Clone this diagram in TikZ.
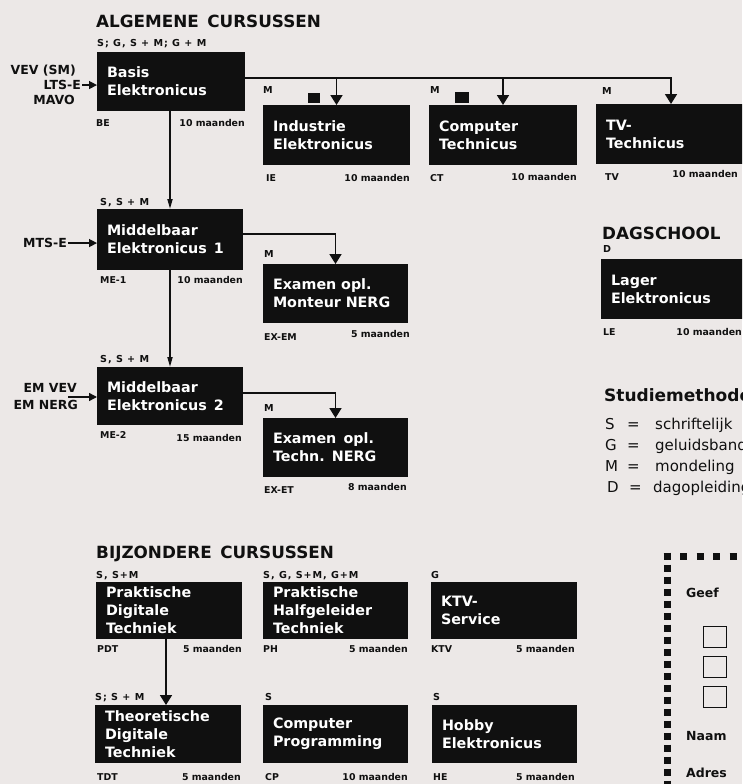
\documentclass[tikz,border=0pt]{standalone}
\usepackage{fontspec}
\setmainfont{DejaVu Sans}
\newfontfamily\spacedfam{DejaVu Sans}[LetterSpace=10]
\usetikzlibrary{arrows.meta}
\definecolor{bg}{RGB}{236,232,231}
\definecolor{ink}{RGB}{16,16,16}
\newcommand\headfont{\fontsize{16.8}{20}\selectfont\bfseries}
\newcommand\smhfont{\fontsize{17}{20}\selectfont\bfseries}
\newcommand\boxfont{\fontsize{14.3}{18}\selectfont\bfseries}
\newcommand\labfont{\fontsize{9.4}{11}\selectfont\bfseries}
\newcommand\methfont{\spacedfam\fontsize{9.6}{11}\selectfont\bfseries}
\newcommand\entryfont{\fontsize{12.5}{15}\selectfont\bfseries}
\newcommand\legfont{\fontsize{15}{18}\selectfont}
\newcommand\formfont{\fontsize{12.5}{15}\selectfont\bfseries}
\begin{document}
\begin{tikzpicture}[x=1pt,y=-1pt,
  cbox/.style={fill=ink,text=white,font=\boxfont,inner xsep=10pt,inner ysep=0pt,align=left,anchor=north west,outer sep=0pt},
  meth/.style={font=\methfont,text=ink,inner sep=0pt,anchor=base west},
  code/.style={font=\labfont,text=ink,inner sep=0pt,anchor=base west},
  dur/.style={font=\labfont,text=ink,inner sep=0pt,anchor=base east},
  head/.style={font=\headfont,text=ink,inner sep=0pt,anchor=base west},
  entry/.style={font=\entryfont,text=ink,inner sep=0pt,anchor=base east},
  conn/.style={draw=ink,line width=1.7pt},
  arr/.style={conn,-{Triangle[width=12pt,length=10pt]}},
  narrow/.style={conn,-{Triangle[width=5pt,length=10pt]}},
  inarr/.style={draw=ink,line width=1.4pt,-{Triangle[width=8pt,length=8pt]}},
  legend/.style={font=\legfont,text=ink,inner sep=0pt,anchor=base west},
  form/.style={font=\formfont,text=ink,inner sep=0pt,anchor=base west},
  chk/.style={draw=ink,line width=1.3pt,minimum width=23pt,minimum height=21pt,anchor=north west,inner sep=0pt}
]
\useasboundingbox (0,0) rectangle (742,784);
\clip (0,0) rectangle (742,784);
\fill[bg] (0,0) rectangle (742,784);

% ---------- headings ----------
\node[head] (hA) at (96,28) {ALGEMENE\enspace CURSUSSEN};
\node[head] (hD) at (602,239) {DAGSCHOOL};
\node[head] (hB) at (96,558) {BIJZONDERE\enspace CURSUSSEN};

% ---------- general courses ----------
\node[cbox,text width=128pt,minimum height=59pt] (BE) at (97,52) {Basis\\Elektronicus};
\node[cbox,text width=127pt,minimum height=60pt] (IE) at (263,105) {Industrie\\Elektronicus};
\node[cbox,text width=128pt,minimum height=60pt] (CT) at (429,105) {Computer\\Technicus};
\node[cbox,text width=130pt,minimum height=60pt] (TV) at (596,104) {TV-\\Technicus};
\node[cbox,text width=126pt,minimum height=61pt] (ME1) at (97,209) {Middelbaar\\Elektronicus\enspace 1};
\node[cbox,text width=125pt,minimum height=59pt] (EXEM) at (263,264) {Examen opl.\\Monteur NERG};
\node[cbox,text width=126pt,minimum height=58pt] (ME2) at (97,367) {Middelbaar\\Elektronicus\enspace 2};
\node[cbox,text width=125pt,minimum height=59pt] (EXET) at (263,418) {Examen\enspace opl.\\Techn.\enspace NERG};
\node[cbox,text width=130pt,minimum height=60pt] (LE) at (601,259) {Lager\\Elektronicus};

% method labels above boxes
\node[meth] (mBE) at (97,46.5) {S; G, S + M; G + M};
\node[meth] (mIE) at (263,93.5) {M};
\node[meth] (mCT) at (430,93.5) {M};
\node[meth] (mTV) at (602,94) {M};
\node[meth] (mME1) at (100,205.5) {S, S + M};
\node[meth] (mEXEM) at (264,257.5) {M};
\node[meth] (mME2) at (100,362.5) {S, S + M};
\node[meth] (mEXET) at (264,411.5) {M};
\node[meth] (mLE) at (603,252.5) {D};
\fill[ink] (308,93) rectangle (320,103);
\fill[ink] (455,92) rectangle (469,103);

% code / duration labels below boxes
\node[code] (cBE) at (96,126.5) {BE};
\node[dur] (dBE) at (245,126.5) {10 maanden};
\node[code] (cIE) at (266,181) {IE};
\node[dur] (dIE) at (410,181) {10 maanden};
\node[code] (cCT) at (430,181) {CT};
\node[dur] (dCT) at (577,180) {10 maanden};
\node[code] (cTV) at (605,180) {TV};
\node[dur] (dTV) at (738,177) {10 maanden};
\node[code] (cME1) at (100,283.5) {ME-1};
\node[dur] (dME1) at (243,283.5) {10 maanden};
\node[code] (cEXEM) at (264,340.5) {EX-EM};
\node[dur] (dEXEM) at (410,337.5) {5 maanden};
\node[code] (cME2) at (100,438.5) {ME-2};
\node[dur] (dME2) at (242,441) {15 maanden};
\node[code] (cEXET) at (264,493.5) {EX-ET};
\node[dur] (dEXET) at (407,490) {8 maanden};
\node[code] (cLE) at (603,335.5) {LE};
\node[dur] (dLE) at (742,335.5) {10 maanden};

% entry labels
\node[entry] (eVEV) at (76,74.6) {VEV (SM)};
\node[entry] (eLTS) at (81,89.6) {LTS-E};
\node[entry] (eMAVO) at (75,104.6) {MAVO};
\node[entry] (eMTS) at (67,247.6) {MTS-E};
\node[entry] (eEMV) at (77,392.6) {EM VEV};
\node[entry] (eEMN) at (78,409.6) {EM NERG};
\coordinate (emIn) at (68,397);

% connectors
\path ([yshift=3.5pt]BE.east) coordinate (trunk);
\draw[arr] (trunk) -| (TV.north);
\draw[arr] (IE.north |- trunk) -- (IE.north);
\draw[arr] (CT.north |- trunk) -- (CT.north);
\draw[narrow] (ME1.north |- BE.south) -- (ME1.north);
\draw[narrow] (ME2.north |- ME1.south) -- (ME2.north);
\draw[arr] ([yshift=5.5pt]ME1.east) -| (EXEM.north);
\draw[arr] ([yshift=3pt]ME2.east) -| (EXET.north);
\draw[inarr] ([xshift=1pt]eLTS.east) -- (eLTS.east -| BE.west);
\draw[inarr] ([xshift=1pt]eMTS.east) -- (eMTS.east -| ME1.west);
\draw[inarr] (emIn) -- (emIn -| ME2.west);

% ---------- special courses ----------
\node[cbox,text width=126pt,minimum height=57pt] (PDT) at (96,582) {Praktische\\Digitale\\Techniek};
\node[cbox,text width=125pt,minimum height=57pt] (PH) at (263,582) {Praktische\\Halfgeleider\\Techniek};
\node[cbox,text width=126pt,minimum height=57pt] (KTV) at (431,582) {KTV-\\Service};
\node[cbox,text width=126pt,minimum height=58pt] (TDT) at (95,705) {Theoretische\\Digitale\\Techniek};
\node[cbox,text width=125pt,minimum height=58pt] (CP) at (263,705) {Computer\\Programming};
\node[cbox,text width=125pt,minimum height=58pt] (HE) at (432,705) {Hobby\\Elektronicus};

\node[meth] (mPDT) at (96,578.5) {S, S+M};
\node[meth] (mPH) at (263,578.5) {S, G, S+M, G+M};
\node[meth] (mKTV) at (431,578.5) {G};
\node[meth] (mTDT) at (95,700.5) {S; S + M};
\node[meth] (mCP) at (265,700.5) {S};
\node[meth] (mHE) at (433,700.5) {S};

\node[code] (cPDT) at (97,652) {PDT};
\node[dur] (dPDT) at (242,652) {5 maanden};
\node[code] (cPH) at (263,652) {PH};
\node[dur] (dPH) at (408,652) {5 maanden};
\node[code] (cKTV) at (431,652) {KTV};
\node[dur] (dKTV) at (575,652) {5 maanden};
\node[code] (cTDT) at (97,780.5) {TDT};
\node[dur] (dTDT) at (241,780.5) {5 maanden};
\node[code] (cCP) at (265,780.5) {CP};
\node[dur] (dCP) at (408,780.5) {10 maanden};
\node[code] (cHE) at (433,780.5) {HE};
\node[dur] (dHE) at (575,780.5) {5 maanden};

\draw[arr] ([xshift=-3pt]PDT.south) -- ([xshift=-3pt]PDT.south |- TDT.north);

% ---------- legend ----------
\node[font=\smhfont,text=ink,inner sep=0pt,anchor=base west] (hS) at (604,401) {Studiemethode};
\node[legend] (lS) at (605,429.5) {S};
\node[legend] (lSe) at (627,429.5) {=};
\node[legend] (lSt) at (655,429.5) {schriftelijk};
\node[legend] (lG) at (605,450.5) {G};
\node[legend] (lGe) at (627,450.5) {=};
\node[legend] (lGt) at (655,450.5) {geluidsband};
\node[legend] (lM) at (605,471.5) {M};
\node[legend] (lMe) at (627,471.5) {=};
\node[legend] (lMt) at (655,471.5) {mondeling};
\node[legend] (lD) at (607,492.5) {D};
\node[legend] (lDe) at (629,492.5) {=};
\node[legend] (lDt) at (653,492.5) {dagopleiding};

% ---------- coupon ----------
\draw[ink,line width=7pt,dash pattern=on 7pt off 9.5pt] (663.5,556) -- (760,556);
\draw[ink,line width=7pt,dash pattern=on 7pt off 5pt] (667,552.5) -- (667,790);
\node[form] (fG) at (686,597) {Geef};
\node[chk] (k1) at (703,626) {};
\node[chk] (k2) at (703,656) {};
\node[chk] (k3) at (703,686) {};
\node[form] (fN) at (686,740) {Naam};
\node[form] (fA) at (686,777) {Adres};
\end{tikzpicture}
\end{document}
